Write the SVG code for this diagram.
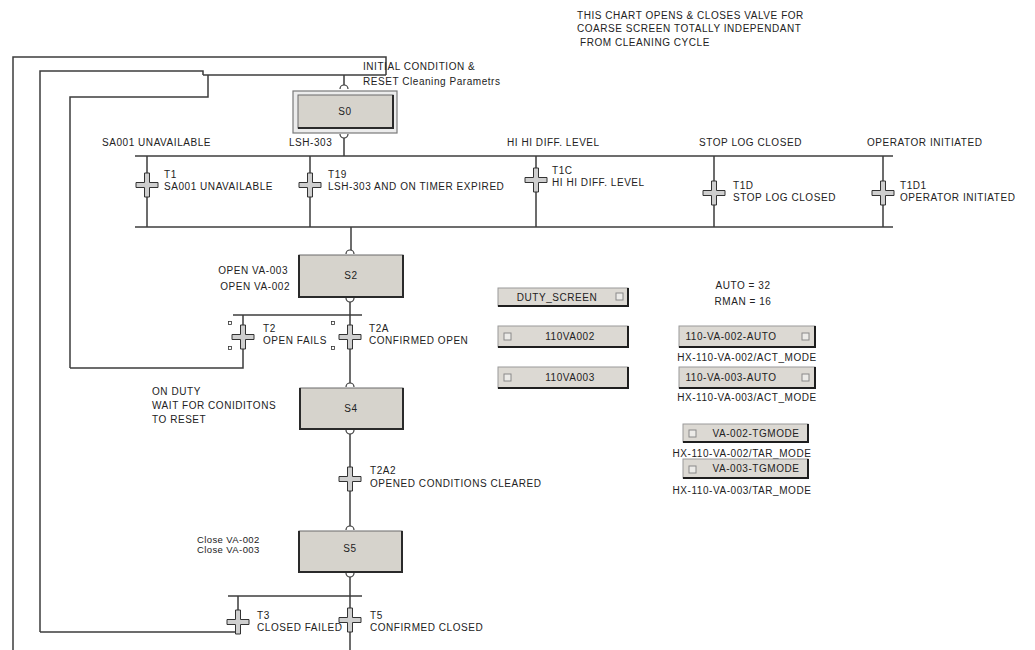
<svg xmlns="http://www.w3.org/2000/svg" xmlns:xlink="http://www.w3.org/1999/xlink" width="1035" height="650" viewBox="0 0 1035 650">
  <style>
    text { font-family: "Liberation Sans", Arial, sans-serif; font-size: 10px; letter-spacing: 0.55px; fill: #222; }
    .mid { text-anchor: middle; }
    .end { text-anchor: end; }
    .small { font-size: 9.5px; letter-spacing: 0.4px; }
    .wire { fill: none; stroke: #3c3c3c; stroke-width: 1.5; }
    .step { fill: #d6d3cc; stroke: #6a6a6a; stroke-width: 1; }
    .stepShade { fill: none; stroke: #2a2a2a; stroke-width: 2; }
    .port { fill: #fff; stroke: #3c3c3c; stroke-width: 1.2; }
    .btn { fill: #dcd9d3; stroke: #9a9a9a; stroke-width: 1; }
    .btnShade { fill: none; stroke: #1e1e1e; stroke-width: 2; }
    .chk { fill: #ecebe8; stroke: #8a8a8a; stroke-width: 1; }
    .handle { fill: #fff; stroke: #333; stroke-width: 0.8; }
  </style>
  <defs>
    <!-- transition bar: outlined plus sign centred on 0,0 -->
    <path id="cross" d="M-2.5,-12 H2.5 V-2.5 H11 V2.5 H2.5 V12 H-2.5 V2.5 H-11 V-2.5 H-2.5 Z" fill="#cfcfcf" stroke="#333" stroke-width="1"/>
  </defs>

  <rect width="1035" height="650" fill="#fff"/>

  <!-- note -->
  <g id="note">
    <text x="577" y="19">THIS CHART OPENS &amp; CLOSES VALVE FOR</text>
    <text x="577" y="32">COARSE SCREEN TOTALLY  INDEPENDANT</text>
    <text x="580" y="46">FROM CLEANING CYCLE</text>
  </g>

  <!-- connectors -->
  <g id="connectors" class="wire">
    <path d="M13,650 V57 H386 V75"/>
    <path d="M40,632 V71 H203 V75"/>
    <path d="M70,368 V97 H208 V75"/>
    <path d="M203,75 H386"/>
    <path d="M344,75 V86"/>
    <path d="M344,134 V156"/>
    <path d="M135,156 H893"/>
    <path d="M135,227 H893"/>
    <path d="M147,156 V227 M310,156 V227 M536,156 V227 M714,156 V227 M883,156 V227"/>
    <path d="M351,227 V252"/>
    <path d="M350,298 V386"/>
    <path d="M233,315 H362"/>
    <path d="M243,315 V368 H70"/>
    <path d="M350,430 V529"/>
    <path d="M350,573 V650"/>
    <path d="M228,596 H362"/>
    <path d="M238,596 V632 H40"/>
  </g>

  <!-- step S0 (initial) -->
  <g id="S0">
    <path class="port" d="M340,89 A4,4 0 0 1 348,89" fill="none"/>
    <rect x="293" y="91" width="104" height="42" fill="#ececec" stroke="#7a7a7a" stroke-width="1.2"/>
    <rect x="298" y="95" width="95" height="33" class="step" stroke="#333"/>
    <path class="stepShade" d="M298,128 H393 V95"/>
    <path class="port" d="M340,134 A4,4 0 0 0 348,134" fill="none"/>
    <text class="mid" x="345" y="115">S0</text>
    <text x="363" y="70">INITIAL CONDITION &amp;</text>
    <text x="363" y="85">RESET Cleaning Parametrs</text>
  </g>

  <!-- condition captions above the divergence -->
  <g id="captions">
    <text x="102" y="146">SA001 UNAVAILABLE</text>
    <text x="289" y="146">LSH-303</text>
    <text x="507" y="146">HI HI DIFF. LEVEL</text>
    <text x="699" y="146">STOP LOG CLOSED</text>
    <text x="867" y="146">OPERATOR INITIATED</text>
  </g>

  <!-- transitions out of S0 -->
  <g id="T1">
    <use xlink:href="#cross" x="147" y="185"/>
    <text x="164" y="178">T1</text>
    <text x="164" y="190">SA001 UNAVAILABLE</text>
  </g>
  <g id="T19">
    <use xlink:href="#cross" x="310" y="185"/>
    <text x="328" y="178">T19</text>
    <text x="328" y="190">LSH-303 AND ON TIMER EXPIRED</text>
  </g>
  <g id="T1C">
    <use xlink:href="#cross" x="536" y="180"/>
    <text x="552" y="174">T1C</text>
    <text x="552" y="186">HI HI DIFF. LEVEL</text>
  </g>
  <g id="T1D">
    <use xlink:href="#cross" x="714" y="193"/>
    <text x="733" y="189">T1D</text>
    <text x="733" y="201">STOP LOG CLOSED</text>
  </g>
  <g id="T1D1">
    <use xlink:href="#cross" x="883" y="193"/>
    <text x="900" y="189">T1D1</text>
    <text x="900" y="201">OPERATOR INITIATED</text>
  </g>

  <!-- step S2 -->
  <g id="S2">
    <path class="port" d="M346,254 A4,4 0 0 1 354,254" fill="none"/>
    <rect x="299" y="255" width="104" height="42" class="step"/>
    <path class="stepShade" d="M299,255 V297 H403 V255"/>
    <path class="port" d="M346,298 A4,4 0 0 0 354,298" fill="none"/>
    <text class="mid" x="351" y="279">S2</text>
    <text class="end" x="288" y="274">OPEN VA-003</text>
    <text class="end" x="290" y="290">OPEN VA-002</text>
  </g>

  <g id="T2">
    <use xlink:href="#cross" x="243" y="337"/>
    <rect class="handle" x="228.5" y="321.5" width="3" height="3"/>
    <rect class="handle" x="228.5" y="346.5" width="3" height="3"/>
    <rect class="handle" x="331.5" y="321.5" width="3" height="3"/>
    <rect class="handle" x="331.5" y="346.5" width="3" height="3"/>
    <text x="263" y="332">T2</text>
    <text x="263" y="344">OPEN FAILS</text>
  </g>
  <g id="T2A">
    <use xlink:href="#cross" x="350" y="337"/>
    <text x="369" y="332">T2A</text>
    <text x="369" y="344">CONFIRMED OPEN</text>
  </g>

  <!-- step S4 -->
  <g id="S4">
    <path class="port" d="M346,387 A4,4 0 0 1 354,387" fill="none"/>
    <rect x="300" y="388" width="103" height="41" class="step"/>
    <path class="stepShade" d="M300,388 V429 H403 V388"/>
    <path class="port" d="M346,430 A4,4 0 0 0 354,430" fill="none"/>
    <text class="mid" x="351" y="412">S4</text>
    <text x="152" y="395">ON DUTY</text>
    <text x="152" y="409">WAIT FOR CONIDITONS</text>
    <text x="152" y="423">TO RESET</text>
  </g>

  <g id="T2A2">
    <use xlink:href="#cross" x="350" y="479"/>
    <text x="370" y="474">T2A2</text>
    <text x="370" y="487">OPENED CONDITIONS CLEARED</text>
  </g>

  <!-- step S5 -->
  <g id="S5">
    <path class="port" d="M346,530 A4,4 0 0 1 354,530" fill="none"/>
    <rect x="299" y="531" width="103" height="41" class="step"/>
    <path class="stepShade" d="M299,531 V572 H402 V531"/>
    <path class="port" d="M346,573 A4,4 0 0 0 354,573" fill="none"/>
    <text class="mid" x="350" y="552">S5</text>
    <text class="small" x="197" y="543">Close VA-002</text>
    <text class="small" x="197" y="553">Close VA-003</text>
  </g>

  <g id="T3">
    <use xlink:href="#cross" x="238" y="622"/>
    <text x="257" y="619">T3</text>
    <text x="257" y="631">CLOSED FAILED</text>
  </g>
  <g id="T5">
    <use xlink:href="#cross" x="350" y="620"/>
    <text x="370" y="619">T5</text>
    <text x="370" y="631">CONFIRMED CLOSED</text>
  </g>

  <!-- operator buttons -->
  <g id="btn-duty-screen">
    <rect class="btn" x="498" y="288" width="130" height="18"/>
    <path class="btnShade" d="M498,306 H628 V288"/>
    <rect class="chk" x="616" y="293" width="7" height="7"/>
    <text class="mid" x="557" y="301">DUTY_SCREEN</text>
  </g>
  <g id="btn-110VA002">
    <rect class="btn" x="498" y="326" width="130" height="21"/>
    <path class="btnShade" d="M498,347 H628 V326"/>
    <rect class="chk" x="504" y="333" width="7" height="7"/>
    <text class="mid" x="570" y="340">110VA002</text>
  </g>
  <g id="btn-110VA003">
    <rect class="btn" x="498" y="367" width="130" height="21"/>
    <path class="btnShade" d="M498,388 H628 V367"/>
    <rect class="chk" x="504" y="374" width="7" height="7"/>
    <text class="mid" x="570" y="381">110VA003</text>
  </g>

  <g id="mode-legend">
    <text class="mid" x="743" y="289">AUTO = 32</text>
    <text class="mid" x="743" y="305">RMAN = 16</text>
  </g>

  <g id="btn-va002-auto">
    <rect class="btn" x="679" y="326" width="136" height="21"/>
    <path class="btnShade" d="M679,347 H815 V326"/>
    <rect class="chk" x="802" y="333" width="7" height="7"/>
    <text class="mid" x="731" y="340">110-VA-002-AUTO</text>
    <text class="mid" x="747" y="361">HX-110-VA-002/ACT_MODE</text>
  </g>
  <g id="btn-va003-auto">
    <rect class="btn" x="679" y="367" width="136" height="21"/>
    <path class="btnShade" d="M679,388 H815 V367"/>
    <rect class="chk" x="802" y="374" width="7" height="7"/>
    <text class="mid" x="731" y="381">110-VA-003-AUTO</text>
    <text class="mid" x="747" y="401">HX-110-VA-003/ACT_MODE</text>
  </g>
  <g id="btn-va002-tgmode">
    <rect class="btn" x="683" y="424" width="125" height="18"/>
    <path class="btnShade" d="M683,442 H808 V424"/>
    <rect class="chk" x="689" y="430" width="7" height="7"/>
    <text class="mid" x="756" y="437">VA-002-TGMODE</text>
    <text class="mid" x="742" y="457">HX-110-VA-002/TAR_MODE</text>
  </g>
  <g id="btn-va003-tgmode">
    <rect class="btn" x="683" y="459" width="125" height="19"/>
    <path class="btnShade" d="M683,478 H808 V459"/>
    <rect class="chk" x="689" y="466" width="7" height="7"/>
    <text class="mid" x="756" y="472">VA-003-TGMODE</text>
    <text class="mid" x="742" y="494">HX-110-VA-003/TAR_MODE</text>
  </g>
</svg>
